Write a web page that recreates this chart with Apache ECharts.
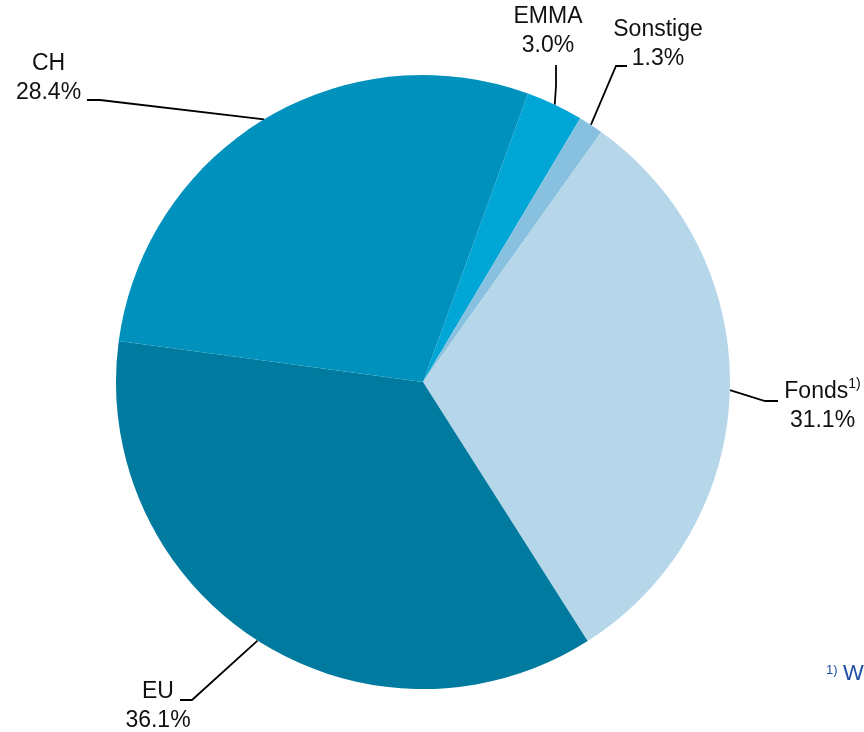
<!DOCTYPE html>
<html><head><meta charset="utf-8">
<script src="https://cdn.jsdelivr.net/npm/echarts@6/dist/echarts.min.js"></script>
<style>html,body{margin:0;padding:0;background:#fff}#c{width:864px;height:732px}</style>
</head><body><div id="c"></div>
<script>
// ---- data ----
const categories = ['EMMA', 'Sonstige', 'Fonds', 'EU', 'CH'];
const shares = [3.0, 1.3, 31.1, 36.1, 28.4];
const footnoteMarks = ['', '', '1)', '', ''];
const footnoteText = 'W';

// ---- styling / layout ----
const sliceColors = ['#00a6d6', '#88c1e0', '#b6d6ea', '#007a9e', '#0091bd'];
const labelSpots = [
  { x: 548,   y: 31.5,  bend: [556, 86],  end: [556, 65] },
  { x: 658,   y: 44.5,  bend: [616, 66],  end: [627, 66] },
  { x: 822.5, y: 406.5, bend: [765, 401], end: [778, 401] },
  { x: 158,   y: 706,   bend: [192, 700], end: [180, 700] },
  { x: 48.5,  y: 78,    bend: [100, 100], end: [87, 100] }
];

const chart = echarts.init(document.getElementById('c'), null, { renderer: 'canvas' });
const FONT = '"Liberation Sans", Arial, sans-serif';

chart.setOption({
  animation: false,
  backgroundColor: '#ffffff',
  series: [{
    type: 'pie',
    center: [423, 382],
    radius: 307,
    startAngle: 70,
    clockwise: true,
    avoidLabelOverlap: false,
    emphasis: { disabled: true },
    itemStyle: { borderWidth: 0 },
    data: categories.map((c, i) => ({
      name: c,
      value: shares[i],
      itemStyle: { color: sliceColors[i] }
    })),
    label: {
      show: true,
      position: 'outside',
      fontFamily: FONT,
      color: '#111',
      formatter: p => {
        const m = footnoteMarks[p.dataIndex];
        return '{n|' + p.name + '}' + (m ? '{s|' + m + '}' : '') + '\n{v|' + p.value.toFixed(1) + '%}';
      },
      rich: {
        n: { fontSize: 23, lineHeight: 29, fontFamily: FONT, color: '#111' },
        v: { fontSize: 23, lineHeight: 29, fontFamily: FONT, color: '#111' },
        s: { fontSize: 14, lineHeight: 22, verticalAlign: 'top', fontFamily: FONT, color: '#111' }
      }
    },
    labelLine: {
      show: true,
      length: 20,
      length2: 10,
      lineStyle: { color: '#000', width: 1.8 }
    },
    labelLayout: function (p) {
      const s = labelSpots[p.dataIndex];
      const p0 = (p.labelLinePoints && p.labelLinePoints[0]) || s.bend;
      return {
        x: s.x,
        y: s.y,
        align: 'center',
        verticalAlign: 'middle',
        labelLinePoints: [p0, s.bend, s.end]
      };
    }
  }],
  graphic: [
    {
      type: 'text', x: 826, y: 664,
      style: { text: '1)', font: '13px ' + FONT, fill: '#1f4ea6', align: 'left', verticalAlign: 'top' }
    },
    {
      type: 'text', x: 843, y: 663,
      style: { text: footnoteText, font: '22px ' + FONT, fill: '#1f4ea6', align: 'left', verticalAlign: 'top' }
    }
  ]
});
</script>
</body></html>
